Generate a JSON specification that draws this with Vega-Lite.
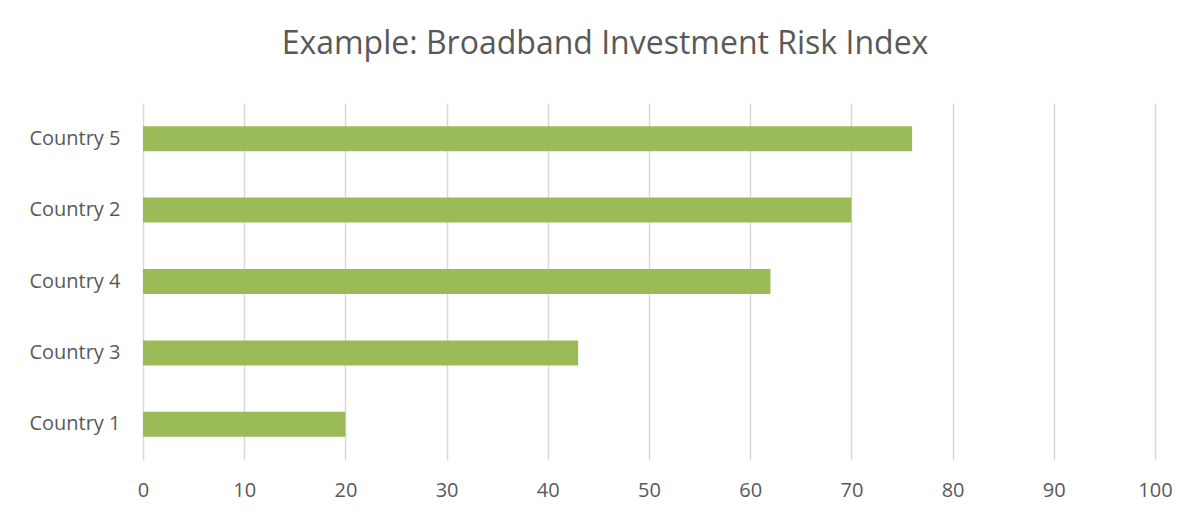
{
  "$schema": "https://vega.github.io/schema/vega-lite/v6.json",
  "autosize": "none",
  "width": 1012,
  "height": 357,
  "padding": {"left": 143, "top": 103, "right": 42, "bottom": 55},
  "background": "white",
  "config": {
    "view": {"stroke": null},
    "font": "Open Sans"
  },
  "title": {
    "text": "Example: Broadband Investment Risk Index",
    "fontSize": 32,
    "font": "Open Sans",
    "fontWeight": "normal",
    "color": "#595959",
    "anchor": "middle",
    "baseline": "alphabetic",
    "dx": -44,
    "offset": 17
  },
  "data": {
    "values": [
      {"country": "Country 1", "value": 20},
      {"country": "Country 2", "value": 70},
      {"country": "Country 3", "value": 43},
      {"country": "Country 4", "value": 62},
      {"country": "Country 5", "value": 76}
    ]
  },
  "mark": {"type": "bar", "color": "#9BBB59"},
  "encoding": {
    "y": {
      "field": "country",
      "type": "nominal",
      "sort": "-x",
      "scale": {"paddingInner": 0.65, "paddingOuter": 0.325},
      "axis": {
        "title": null,
        "domain": false,
        "ticks": false,
        "labelPadding": 23,
        "labelFontSize": 20,
        "labelColor": "#595959",
        "labelFont": "Open Sans"
      }
    },
    "x": {
      "field": "value",
      "type": "quantitative",
      "scale": {"domain": [0, 100], "nice": false},
      "axis": {
        "title": null,
        "values": [0, 10, 20, 30, 40, 50, 60, 70, 80, 90, 100],
        "domain": false,
        "ticks": false,
        "grid": true,
        "gridColor": "#d9d9d9",
        "gridWidth": 1.5,
        "labelPadding": 20,
        "labelFontSize": 20,
        "labelColor": "#595959",
        "labelFont": "Open Sans",
        "labelFlush": false
      }
    }
  }
}
